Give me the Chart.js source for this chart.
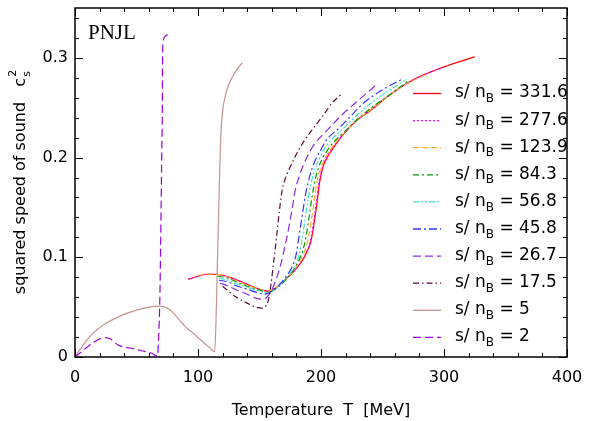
<!DOCTYPE html>
<html>
<head>
<meta charset="utf-8">
<script src="https://cdn.jsdelivr.net/npm/chart.js@4.4.1/dist/chart.umd.min.js"></script>
<style>
  html, body { margin:0; padding:0; background:#fff; }
</style>
</head>
<body>
<canvas id="cs2Chart" width="601" height="421"></canvas>
<script>
// s/n_B values, legend order
const entropyRatios = ['331.6','277.6','123.9','84.3','56.8','45.8','26.7','17.5','5','2'];

// temperature [MeV] / squared speed of sound, one pair per curve
const T_331_6   = [92,100,107,113,120,130,140,150,157,165,172,178,184,188,192,194.5,197,199,201.5,205,208.5,218,228,240,255,275,300,325];
const cs2_331_6 = [0.078,0.081,0.083,0.083,0.082,0.078,0.073,0.068,0.066,0.071,0.079,0.086,0.095,0.104,0.117,0.135,0.157,0.176,0.19,0.2,0.207,0.223,0.236,0.247,0.262,0.278,0.291,0.301];

const T_277_6   = [92,100,107,113,120,130,140,150,157,165,172,178,184,188,191.5,194,196.5,198.5,201,204.5,208,217,227,240,255,275,300];
const cs2_277_6 = [0.078,0.081,0.083,0.083,0.082,0.078,0.073,0.068,0.066,0.071,0.079,0.086,0.096,0.105,0.117,0.136,0.157,0.176,0.19,0.2,0.207,0.222,0.235,0.248,0.262,0.278,0.291];

const T_123_9   = [100,107,113,120,130,140,150,157,165,172,178,183,187,190,192.5,195,197,200,203.5,207,216,226,238,253,270,285];
const cs2_123_9 = [0.082,0.083,0.083,0.082,0.077,0.072,0.068,0.066,0.071,0.079,0.087,0.097,0.107,0.121,0.14,0.161,0.178,0.19,0.2,0.207,0.221,0.234,0.246,0.26,0.274,0.283];

const T_84_3    = [116,125,130,140,150,157,164,171,177,182,185.5,188,190.5,193,195.5,198,201.5,205,210,220,230,242,257,272];
const cs2_84_3  = [0.081,0.079,0.076,0.071,0.067,0.065,0.069,0.077,0.086,0.097,0.108,0.122,0.142,0.163,0.179,0.19,0.2,0.207,0.215,0.227,0.239,0.251,0.264,0.278];

const T_56_8    = [117,125,130,140,150,156,162,168,174,179,182,184.5,187,189.5,192,195,199,203,207,218,228,240,255,270];
const cs2_56_8  = [0.079,0.077,0.074,0.07,0.066,0.064,0.067,0.074,0.083,0.092,0.102,0.117,0.138,0.158,0.175,0.188,0.2,0.209,0.216,0.229,0.241,0.254,0.267,0.279];

const T_45_8    = [117,125,130,140,150,155,160,165,170,175,178,180,182,184.5,187,189.5,193,196,200,204,215,223,234,250,265];
const cs2_45_8  = [0.077,0.075,0.072,0.068,0.064,0.063,0.066,0.071,0.078,0.087,0.095,0.104,0.12,0.14,0.16,0.175,0.19,0.199,0.208,0.217,0.23,0.24,0.254,0.268,0.278];

const T_26_7    = [118,125,130,140,147,151,155,158.5,162,166.7,170,173.4,177,179,182,185.5,190,195,207,218,230,246];
const cs2_26_7  = [0.074,0.071,0.068,0.063,0.059,0.058,0.059,0.064,0.073,0.09,0.107,0.127,0.152,0.167,0.18,0.192,0.204,0.214,0.23,0.244,0.257,0.274];

const T_17_5    = [120,130,140,147,152,155,157,159,161.5,164,166.5,168.5,171,174,178.6,185.4,193.5,201.7,208.5,217];
const cs2_17_5  = [0.071,0.061,0.054,0.05,0.049,0.051,0.056,0.07,0.095,0.122,0.15,0.168,0.179,0.188,0.2,0.215,0.229,0.242,0.254,0.264];

const T_5       = [0,2,5,9,14,23,36.5,50,60,69,75,80,85,90,96,100,105,110,113.5,114.5,115.5,116.5,117.5,118.5,119.5,121,124,128,132,136];
const cs2_5     = [0,0.004,0.009,0.016,0.023,0.032,0.041,0.047,0.05,0.051,0.049,0.044,0.037,0.03,0.024,0.0196,0.014,0.0088,0.005,0.03,0.08,0.13,0.18,0.22,0.24,0.255,0.27,0.281,0.289,0.295];

const T_2       = [0,5,10,15,20,25,29,32,35,45,55,62,67,68,69,69.5,70,70.5,71,71.2,71.6,73,76];
const cs2_2     = [0,0.005,0.01,0.0145,0.018,0.0195,0.018,0.015,0.012,0.009,0.006,0.004,0.001,0.02,0.06,0.1,0.15,0.2,0.25,0.3,0.315,0.321,0.324];

const curveTemps = [T_331_6, T_277_6, T_123_9, T_84_3, T_56_8, T_45_8, T_26_7, T_17_5, T_5, T_2];
const curveCs2   = [cs2_331_6, cs2_277_6, cs2_123_9, cs2_84_3, cs2_56_8, cs2_45_8, cs2_26_7, cs2_17_5, cs2_5, cs2_2];

const lineColors = ['#ff0000','#ff00ff','#ffaa33','#009900','#40e0d0','#3333ff','#8a2be2','#5a0a3a','#c49494','#9900dd'];
const lineDashes = [[], [2,2], [6,3], [6,3,2,3], [6,2,2,2,2,2], [8,3,2,3], [8,4], [6,3,1.5,3], [], [8,4]];

const xTicks = [0,100,200,300,400];
const yTicks = [0,0.1,0.2,0.3];

const FONT = '"DejaVu Sans", Verdana, sans-serif';

const datasets = curveTemps.map((T, i) => ({
  label: 's/nB = ' + entropyRatios[i],
  data: T.map((t, k) => ({ x: t, y: curveCs2[i][k] })),
  showLine: true,
  borderColor: lineColors[i],
  backgroundColor: lineColors[i],
  borderDash: lineDashes[i],
  borderWidth: 1.2,
  pointRadius: 0,
  cubicInterpolationMode: 'monotone',
  order: 20 - i
}));

const decorations = {
  id: 'decorations',
  afterDraw(chart) {
    const ctx = chart.ctx;
    const a = chart.chartArea;
    const xs = chart.scales.x, ys = chart.scales.y;
    ctx.save();
    ctx.strokeStyle = '#000';
    ctx.lineWidth = 1.5;
    ctx.setLineDash([]);
    ctx.strokeRect(a.left, a.top, a.right - a.left, a.bottom - a.top);

    // inward ticks on all four sides
    ctx.lineWidth = 1;
    ctx.beginPath();
    for (let v = 0; v <= 400; v += 20) {
      const px = Math.round(xs.getPixelForValue(v)) + 0.5;
      const len = v % 100 === 0 ? 8 : 4;
      ctx.moveTo(px, a.bottom); ctx.lineTo(px, a.bottom - len);
      ctx.moveTo(px, a.top); ctx.lineTo(px, a.top + len);
    }
    for (let k = 0; k <= 17; k++) {
      const v = k * 0.02;
      const py = Math.round(ys.getPixelForValue(v)) + 0.5;
      const len = k % 5 === 0 ? 8 : 4;
      ctx.moveTo(a.left, py); ctx.lineTo(a.left + len, py);
      ctx.moveTo(a.right, py); ctx.lineTo(a.right - len, py);
    }
    ctx.stroke();

    // PNJL label
    ctx.fillStyle = '#000';
    ctx.font = '21px "Liberation Serif", "Times New Roman", serif';
    ctx.textAlign = 'left';
    ctx.textBaseline = 'alphabetic';
    ctx.fillText('PNJL', 88, 39);

    // x axis title
    ctx.font = '16px ' + FONT;
    ctx.textAlign = 'center';
    ctx.textBaseline = 'middle';
    ctx.fillText('Temperature  T  [MeV]', (a.left + a.right) / 2, 411);

    // y axis title
    ctx.save();
    ctx.translate(21, 182);
    ctx.rotate(-Math.PI / 2);
    ctx.textAlign = 'left';
    const main = 'squared speed of sound   c';
    const w = ctx.measureText(main).width;
    const start = -(w + 8) / 2;
    ctx.fillText(main, start, 0);
    ctx.font = '11px ' + FONT;
    ctx.fillText('s', start + w + 1, 6);
    ctx.fillText('2', start + w + 1, -8);
    ctx.restore();

    // legend
    chart.data.datasets.forEach((ds, i) => {
      const y = 93 + i * 27.1;
      ctx.strokeStyle = ds.borderColor;
      ctx.lineWidth = 1.3;
      ctx.setLineDash(ds.borderDash);
      ctx.beginPath();
      ctx.moveTo(413, y + 0.5); ctx.lineTo(441, y + 0.5);
      ctx.stroke();
      ctx.setLineDash([]);
      ctx.fillStyle = '#000';
      ctx.textAlign = 'left';
      ctx.textBaseline = 'middle';
      ctx.font = '17px ' + FONT;
      let x = 455;
      ctx.fillText('s/ n', x, y);
      x += ctx.measureText('s/ n').width;
      ctx.font = '12px ' + FONT;
      ctx.fillText('B', x, y + 6);
      x += ctx.measureText('B').width;
      ctx.font = '17px ' + FONT;
      ctx.fillText(' = ' + entropyRatios[i], x, y);
    });
    ctx.restore();
  }
};

Chart.defaults.color = '#000';
new Chart(document.getElementById('cs2Chart'), {
  type: 'scatter',
  data: { datasets },
  options: {
    responsive: false,
    animation: false,
    layout: { padding: { top: 8, right: 34, left: 0, bottom: 0 } },
    plugins: { legend: { display: false }, tooltip: { enabled: false } },
    scales: {
      x: {
        type: 'linear', min: 0, max: 400,
        grid: { display: false, drawTicks: false }, border: { display: false },
        afterBuildTicks: s => { s.ticks = xTicks.map(v => ({ value: v })); },
        ticks: { font: { family: FONT, size: 16 }, padding: 11, maxRotation: 0 },
        afterFit: s => { s.height = 64; s.paddingLeft = 0; s.paddingRight = 0; }
      },
      y: {
        type: 'linear', min: 0, max: 0.35,
        grid: { display: false, drawTicks: false }, border: { display: false },
        afterBuildTicks: s => { s.ticks = yTicks.map(v => ({ value: v })); },
        ticks: { font: { family: FONT, size: 16 }, padding: 7, callback: v => String(v) },
        afterFit: s => { s.width = 75; s.paddingTop = 0; s.paddingBottom = 0; }
      }
    }
  },
  plugins: [decorations]
});
</script>
</body>
</html>
